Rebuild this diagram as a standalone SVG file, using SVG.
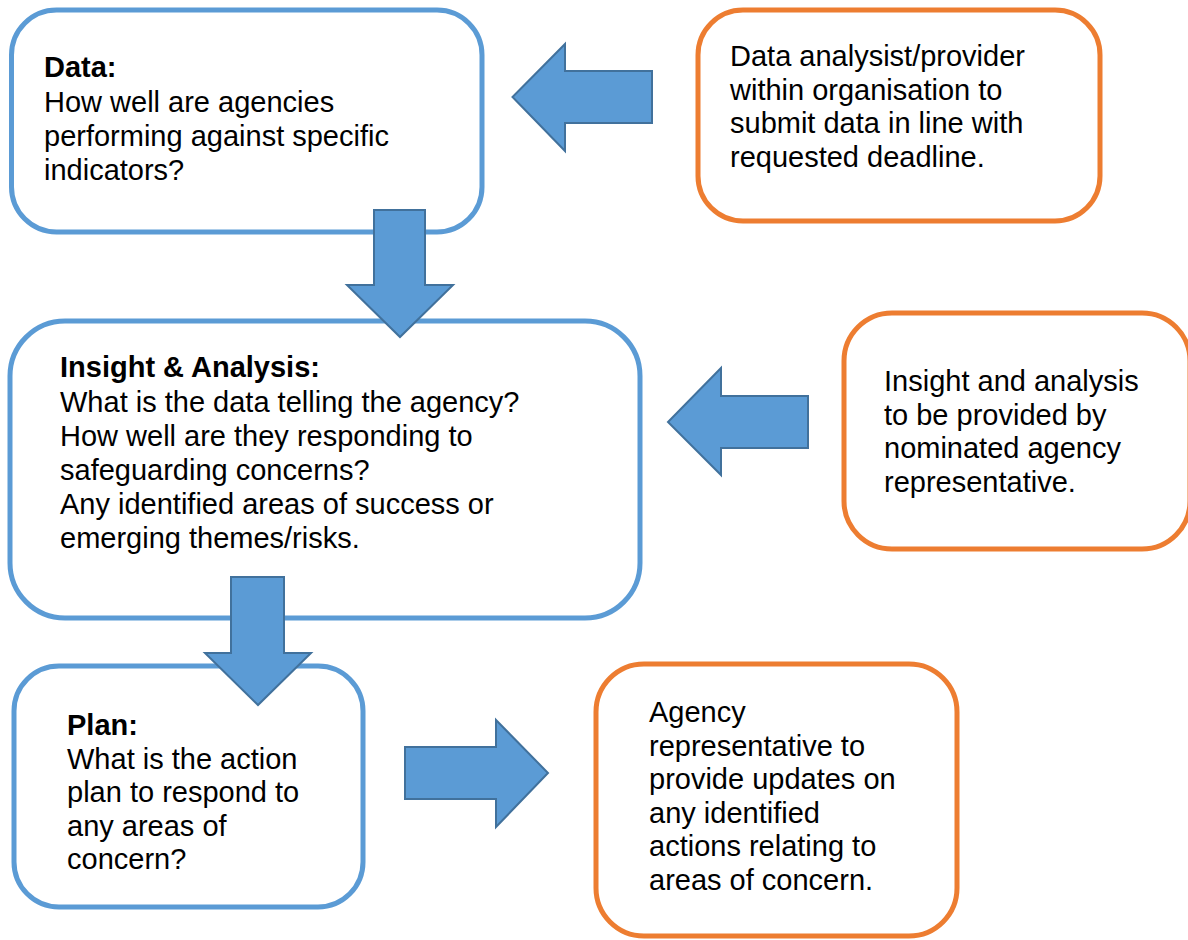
<svg xmlns="http://www.w3.org/2000/svg" width="1188" height="940" viewBox="0 0 1188 940">
<style>
.box{fill:#fff;stroke-width:5}
.blue{stroke:#5B9BD5}
.orange{stroke:#ED7D31}
.arrow{fill:#5B9BD5;stroke:#41719C;stroke-width:2;stroke-linejoin:miter}
text{font-family:"Liberation Sans",Arial,sans-serif;font-size:29px;fill:#000}
.b{font-weight:bold}
</style>
<rect width="1188" height="940" fill="#fff"/>
<g id="node-data">
<rect class="box blue" x="11.5" y="10" width="470.5" height="222" rx="45" ry="45"/>
<text x="44"><tspan class="b" x="44" y="77">Data:</tspan><tspan x="44" y="111.5">How well are agencies</tspan><tspan x="44" y="145.5">performing against specific</tspan><tspan x="44" y="179.5">indicators?</tspan></text>
</g>
<g id="node-provider">
<rect class="box orange" x="698" y="10" width="402" height="211" rx="45" ry="45"/>
<text><tspan x="730" y="66">Data analysist/provider</tspan><tspan x="730" y="99.5">within organisation to</tspan><tspan x="730" y="133">submit data in line with</tspan><tspan x="730" y="166.5">requested deadline.</tspan></text>
</g>
<g id="node-insight">
<rect class="box blue" x="10" y="321" width="630" height="297" rx="55" ry="55"/>
<text><tspan class="b" x="60" y="377">Insight &amp; Analysis:</tspan><tspan x="60" y="411.5">What is the data telling the agency?</tspan><tspan x="60" y="445.5">How well are they responding to</tspan><tspan x="60" y="479.5">safeguarding concerns?</tspan><tspan x="60" y="513.5">Any identified areas of success or</tspan><tspan x="60" y="547.5">emerging themes/risks.</tspan></text>
</g>
<g id="node-nominated">
<rect class="box orange" x="844" y="313" width="346" height="236" rx="48" ry="48"/>
<text><tspan x="884" y="391">Insight and analysis</tspan><tspan x="884" y="424.5">to be provided by</tspan><tspan x="884" y="458">nominated agency</tspan><tspan x="884" y="491.5">representative.</tspan></text>
</g>
<g id="node-plan">
<rect class="box blue" x="14" y="666" width="349" height="241" rx="45" ry="45"/>
<text><tspan class="b" x="67" y="735">Plan:</tspan><tspan x="67" y="768.5">What is the action</tspan><tspan x="67" y="802">plan to respond to</tspan><tspan x="67" y="835.5">any areas of</tspan><tspan x="67" y="869">concern?</tspan></text>
</g>
<g id="node-updates">
<rect class="box orange" x="596" y="664" width="361" height="272" rx="48" ry="48"/>
<text><tspan x="649" y="722">Agency</tspan><tspan x="649" y="755.5">representative to</tspan><tspan x="649" y="789">provide updates on</tspan><tspan x="649" y="822.5">any identified</tspan><tspan x="649" y="856">actions relating to</tspan><tspan x="649" y="889.5">areas of concern.</tspan></text>
</g>
<g id="connectors">
<polygon class="arrow" points="652,71 565,71 565,44 512.5,97 565,151 565,123 652,123"/>
<polygon class="arrow" points="374,210 425,210 425,285 453,285 400,337 347,285 374,285"/>
<polygon class="arrow" points="808,396 721,396 721,368 668,422 721,475 721,448 808,448"/>
<polygon class="arrow" points="231,577 284,577 284,653 311,653 258,705 205,653 231,653"/>
<polygon class="arrow" points="405,747 496,747 496,720 548,773 496,827 496,799 405,799"/>
</g>
</svg>
